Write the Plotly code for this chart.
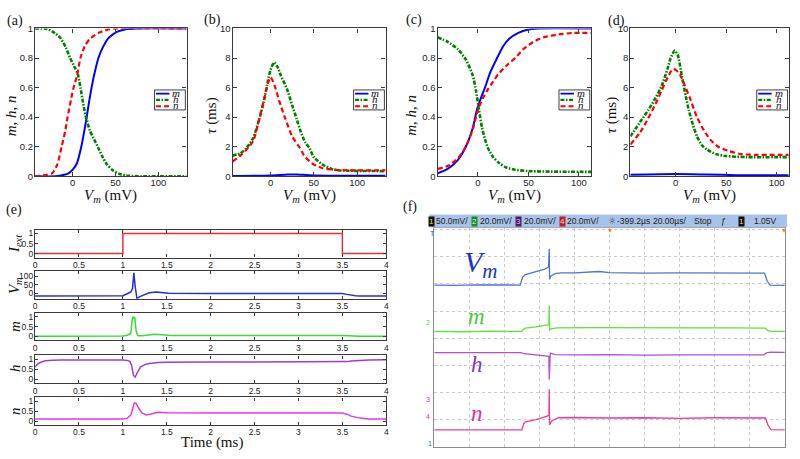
import plotly.graph_objects as go

# ================= DATA =================
# (a) steady-state gating variables vs Vm (simulation)
a_m_v = [-44, -20, -10, -5, 0, 5, 10, 13, 16, 19, 22, 26, 30, 35, 41, 47, 53, 62, 75, 133]
a_m = [0, 0, 0.01, 0.02, 0.045, 0.09, 0.2, 0.29, 0.39, 0.5, 0.6, 0.71, 0.8, 0.87, 0.93, 0.96, 0.98, 0.995, 1, 1]
a_h_v = [-44, -30, -24, -15, -8, -3, 2, 6, 9, 12, 15, 20, 25, 30, 35, 40, 47, 55, 65, 80, 133]
a_h = [1, 0.997, 0.98, 0.94, 0.87, 0.8, 0.74, 0.69, 0.6, 0.5, 0.41, 0.31, 0.25, 0.19, 0.13, 0.08, 0.04, 0.015, 0.004, 0, 0]
a_n_v = [-44, -30, -24, -18, -13, -9, -6, -2, 1, 5, 9, 14, 20, 30, 40, 50, 133]
a_n = [0, 0.01, 0.02, 0.08, 0.2, 0.3, 0.4, 0.52, 0.6, 0.68, 0.8, 0.88, 0.93, 0.97, 0.99, 1, 1]

# (b) time constants vs Vm (simulation)
b_m_v = [-44, 0, 20, 30, 50, 133]
b_m = [0.03, 0.06, 0.13, 0.12, 0.06, 0.04]
b_h_v = [-44, -35, -28, -20, -13, -8, -3, 0, 4, 8, 12, 19, 25, 30, 35, 40, 45, 50, 60, 73, 90, 133]
b_h = [1.4, 1.55, 1.9, 2.6, 3.9, 5.0, 6.5, 7.2, 7.7, 7.4, 6.8, 5.9, 4.8, 3.9, 3.0, 2.3, 1.9, 1.3, 0.8, 0.45, 0.38, 0.35]
b_n_v = [-44, -35, -28, -20, -13, -8, -3, 0, 3, 6, 10, 17, 25, 34, 40, 50, 60, 73, 90, 133]
b_n = [1.0, 1.4, 1.8, 2.4, 3.9, 5.1, 6.3, 6.7, 6.4, 5.9, 5.1, 3.9, 2.7, 1.9, 1.3, 0.8, 0.55, 0.45, 0.4, 0.4]

# (c) steady-state gating variables vs Vm (circuit)
c_m_v = [-40, -30, -20, -12, -5, -1, 3, 7, 12, 19, 25, 31, 40, 48, 60, 112]
c_m = [0.02, 0.05, 0.11, 0.2, 0.33, 0.45, 0.53, 0.6, 0.7, 0.8, 0.88, 0.93, 0.97, 0.99, 1, 1]
c_h_v = [-40, -30, -20, -12, -5, -2, 1, 4, 7, 10, 15, 21, 28, 37, 50, 112]
c_h = [0.94, 0.91, 0.86, 0.79, 0.68, 0.58, 0.45, 0.33, 0.25, 0.19, 0.13, 0.09, 0.06, 0.045, 0.035, 0.03]
c_n_v = [-40, -30, -20, -12, -5, 0, 5, 10, 15, 20, 30, 37, 45, 55, 65, 80, 95, 112]
c_n = [0.05, 0.07, 0.12, 0.2, 0.32, 0.45, 0.53, 0.59, 0.64, 0.69, 0.76, 0.8, 0.86, 0.91, 0.94, 0.96, 0.97, 0.97]

# (d) time constants vs Vm (circuit)
d_m_v = [-45, 0, 30, 60, 112]
d_m = [0.1, 0.15, 0.12, 0.08, 0.07]
d_h_v = [-45, -35, -27, -20, -14, -8, -5, -1, 2, 6, 10, 13, 17, 21, 26, 31, 40, 50, 70, 112]
d_h = [2.7, 3.7, 4.5, 5.3, 6.1, 7.3, 8.0, 8.5, 8.2, 6.8, 5.4, 4.45, 3.5, 2.7, 2.1, 1.8, 1.5, 1.37, 1.3, 1.3]
d_n_v = [-45, -35, -27.5, -20, -14, -8, -3, 0, 4, 8, 14, 21, 28, 34, 42, 53, 65, 80, 112]
d_n = [2.15, 3.0, 3.9, 4.9, 5.8, 6.7, 7.25, 7.2, 6.9, 6.3, 5.3, 4.0, 3.1, 2.5, 2.0, 1.7, 1.5, 1.45, 1.45]

# (e) time courses (simulation), time in ms
e_i_t = [0, 1, 3.5, 4]
e_i = [0, 1, 0, 0]
e_v_t = [0, 0.5, 0.99, 1.0, 1.05, 1.09, 1.11, 1.125, 1.14, 1.16, 1.2, 1.25, 1.3, 1.38, 1.45, 1.52, 2.0, 2.5, 3.0, 3.5, 3.55, 3.6, 3.65, 3.7, 4.0]
e_v = [-15, -15, -15, -14, -2, 8, 30, 120, 40, -30, -18, -6, 3, 8, 5, 0, -1, -1, -1, -1, -6, -12, -14, -15, -15]
e_m_t = [0, 0.98, 1.0, 1.05, 1.09, 1.105, 1.115, 1.125, 1.135, 1.15, 1.17, 1.22, 1.3, 1.36, 1.45, 1.55, 3.5, 3.6, 3.7, 4.0]
e_m = [0.01, 0.01, 0.02, 0.06, 0.15, 0.8, 1.0, 0.92, 0.98, 0.3, 0.03, 0.03, 0.08, 0.11, 0.08, 0.05, 0.05, 0.03, 0.01, 0.01]
e_h_t = [0, 0.03, 0.07, 0.12, 0.2, 0.3, 1.0, 1.05, 1.08, 1.1, 1.12, 1.14, 1.16, 1.2, 1.25, 1.3, 1.4, 1.5, 2.0, 3.0, 3.5, 3.55, 3.6, 3.7, 3.8, 4.0]
e_h = [0.62, 0.78, 0.87, 0.93, 0.96, 0.97, 0.97, 0.95, 0.9, 0.7, 0.2, 0.12, 0.3, 0.62, 0.74, 0.8, 0.84, 0.86, 0.87, 0.87, 0.87, 0.89, 0.92, 0.95, 0.97, 0.98]
e_n_t = [0, 1.0, 1.05, 1.09, 1.11, 1.13, 1.15, 1.18, 1.22, 1.27, 1.32, 1.4, 1.5, 1.7, 2.0, 3.0, 3.5, 3.55, 3.6, 3.7, 3.8, 4.0]
e_n = [0.1, 0.1, 0.15, 0.3, 0.6, 0.92, 0.9, 0.65, 0.4, 0.31, 0.36, 0.45, 0.42, 0.43, 0.41, 0.41, 0.41, 0.35, 0.25, 0.15, 0.11, 0.1]

# (f) oscilloscope traces, x and y in screen divisions
f_v_x = [0, 0.6, 1.2, 1.8, 2.45, 2.52, 2.6, 2.8, 3.0, 3.15, 3.26, 3.28, 3.29, 3.33, 3.45, 3.6, 4.0, 4.5, 4.7, 5.0, 6.0, 7.0, 8.0, 9.0, 9.42, 9.5, 9.58, 10.0]
f_v = [5.96, 5.95, 5.97, 5.96, 5.96, 6.25, 6.35, 6.42, 6.48, 6.55, 6.62, 7.3, 6.17, 6.3, 6.38, 6.41, 6.41, 6.43, 6.46, 6.42, 6.40, 6.41, 6.41, 6.41, 6.40, 6.1, 5.96, 5.95]
f_m_x = [0, 0.8, 1.6, 2.5, 2.55, 2.6, 2.9, 3.2, 3.27, 3.28, 3.29, 3.33, 3.5, 4.5, 5.5, 6.5, 7.5, 8.5, 9.45, 9.5, 9.58, 10.0]
f_m = [4.25, 4.24, 4.26, 4.25, 4.33, 4.37, 4.42, 4.48, 4.5, 5.21, 4.29, 4.35, 4.38, 4.39, 4.38, 4.37, 4.38, 4.38, 4.37, 4.3, 4.25, 4.25]
f_h_x = [0, 0.8, 1.6, 2.48, 2.55, 2.9, 3.2, 3.27, 3.28, 3.29, 3.31, 3.45, 4.0, 5.0, 6.0, 7.0, 8.0, 9.0, 9.4, 9.48, 9.6, 10.0]
f_h = [3.47, 3.48, 3.47, 3.47, 3.43, 3.39, 3.35, 3.33, 2.48, 3.3, 3.45, 3.40, 3.39, 3.40, 3.38, 3.39, 3.39, 3.39, 3.39, 3.46, 3.49, 3.48]
f_n_x = [0, 0.8, 1.6, 2.5, 2.55, 2.6, 2.9, 3.2, 3.27, 3.28, 3.29, 3.35, 3.54, 4.0, 5.0, 6.0, 7.0, 8.0, 9.0, 9.45, 9.52, 9.6, 10.0]
f_n = [0.62, 0.63, 0.62, 0.62, 0.85, 0.92, 1.0, 1.12, 1.16, 2.12, 0.8, 0.95, 1.07, 1.08, 1.06, 1.07, 1.05, 1.07, 1.06, 1.06, 0.8, 0.63, 0.62]

x_ticks_v = [0, 50, 100]
e_ticks_t = [0, 0.5, 1, 1.5, 2, 2.5, 3, 3.5, 4]

# ================= LAYOUT HELPERS =================
W, H = 800, 459
def PX(p):
    return p / W
def PY(p):
    return 1 - p / H

SERIF = "Liberation Serif, Times New Roman, serif"
SANS = "Liberation Sans, Arial, sans-serif"
FRAME = "#3a3a3a"

def note(text, x, y, size, color="#111", family=SERIF, angle=0, **kw):
    d = dict(text=text, x=PX(x), y=PY(y), xref="paper", yref="paper", showarrow=False,
             xanchor="center", yanchor="middle", textangle=angle,
             font=dict(family=family, size=size, color=color))
    d.update(kw)
    return d

def mat_axis(d0, d1, rng, tickvals, anchor, horiz, size=9.5, standoff=0):
    dom = [PX(d0), PX(d1)] if horiz else [PY(d1), PY(d0)]
    return dict(domain=dom, range=rng, tickvals=tickvals, ticktext=[f"{v:g}" for v in tickvals],
                ticks="inside", ticklen=4, ticklabelstandoff=standoff,
                tickcolor=FRAME, tickwidth=1, showline=True, linecolor=FRAME, linewidth=1.3,
                mirror="ticks", showgrid=False, zeroline=False, anchor=anchor,
                tickfont=dict(family=SANS, size=size, color="#222"), fixedrange=True)

fig = go.Figure()
layout = dict(width=W, height=H, margin=dict(l=0, r=0, t=0, b=0),
              paper_bgcolor="white", plot_bgcolor="white", showlegend=False)
annotations = []
shapes = []

BLUE, GREEN, RED = "#0000ff", "#008000", "#ff0000"

# ---- top panels (a)-(d) ----
top_panels = [
    ("a", 33.3, 185.7, [-44, 133], [0, 1], [0, 0.2, 0.4, 0.6, 0.8, 1],
     [(a_m_v, a_m), (a_h_v, a_h), (a_n_v, a_n)], "<i>m</i>, <i>h</i>, <i>n</i>"),
    ("b", 232.0, 386.0, [-44, 133], [0, 10], [0, 2, 4, 6, 8, 10],
     [(b_m_v, b_m), (b_h_v, b_h), (b_n_v, b_n)], "<i>τ</i> (ms)"),
    ("c", 438.3, 592.7, [-40, 112], [0, 1], [0, 0.2, 0.4, 0.6, 0.8, 1],
     [(c_m_v, c_m), (c_h_v, c_h), (c_n_v, c_n)], "<i>m</i>, <i>h</i>, <i>n</i>"),
    ("d", 632.3, 791.7, [-45, 112], [0, 10], [0, 2, 4, 6, 8, 10],
     [(d_m_v, d_m), (d_h_v, d_h), (d_n_v, d_n)], "<i>τ</i> (ms)"),
]
TOP_Y0, TOP_Y1 = 23.0, 174.5
styles = [dict(color=BLUE, width=2, dash="solid"),
          dict(color=GREEN, width=2.6, dash="4px,1.5px,1.5px,1.5px"),
          dict(color=RED, width=2.2, dash="5px,3px")]
label_pos = {"a": (13, 15), "b": (211.5, 14), "c": (415, 14), "d": (618, 15)}
ytitle_x = {"a": 9, "b": 211, "c": 412, "d": 613}

for i, (name, x0, x1, xr, yr, ytv, data, ytitle) in enumerate(top_panels, start=1):
    xa = "xaxis" if i == 1 else f"xaxis{i}"
    ya = "yaxis" if i == 1 else f"yaxis{i}"
    xs = "x" if i == 1 else f"x{i}"
    ys = "y" if i == 1 else f"y{i}"
    layout[xa] = mat_axis(x0, x1, xr, x_ticks_v, ys, True, standoff=-3)
    layout[ya] = mat_axis(TOP_Y0, TOP_Y1, yr, ytv, xs, False, standoff=-1)
    for (vx, vy), st in zip(data, styles):
        fig.add_trace(go.Scatter(x=vx, y=vy, xaxis=xs, yaxis=ys, mode="lines",
                                 line=dict(color=st["color"], width=st["width"], dash=st["dash"],
                                           shape="spline", smoothing=0.6),
                                 hoverinfo="skip"))
    lx, ly = label_pos[name]
    annotations.append(note(f"({name})", lx, ly, 14))
    annotations.append(note(ytitle, ytitle_x[name], 112, 15, angle=-90))
    annotations.append(note("<i>V</i><sub><i>m</i></sub> (mV)", (x0 + x1) / 2, 195, 15))
    # legend box
    R = x1 - 1.2
    bx0, bx1, by0, by1 = R - 31, R, 86, 106.5
    shapes.append(dict(type="rect", xref="paper", yref="paper", x0=PX(bx0), x1=PX(bx1),
                       y0=PY(by1), y1=PY(by0), fillcolor="white", line=dict(color="#111", width=0.8)))
    for k, (lab, st) in enumerate(zip(["m", "h", "n"], styles)):
        yy = 89.8 + k * 6.4
        shapes.append(dict(type="line", xref="paper", yref="paper", x0=PX(bx0 + 1.5), x1=PX(bx0 + 15),
                           y0=PY(yy), y1=PY(yy),
                           line=dict(color=st["color"], width=st["width"] * 0.9, dash=st["dash"])))
        annotations.append(note(f"<i>{lab}</i>", bx0 + 22, yy - 1, 11))

# ---- panel (e): five stacked time courses ----
E_X0, E_X1 = 33.3, 386.7
e_rows = [
    (229.0, 257.7, [-0.2, 1.2], [0, 0.5, 1], e_i_t, e_i, "#e8302e", "hv", "<i>I<sub>ext</sub></i>", 243),
    (271.7, 300.0, [-32, 130], [0, 50, 100], e_v_t, e_v, "#2a2ad6", "linear", "<i>V<sub>m</sub></i>", 286),
    (314.3, 342.6, [-0.2, 1.2], [0, 0.5, 1], e_m_t, e_m, "#33dd33", "linear", "<i>m</i>", 328),
    (358.0, 386.7, [-0.2, 1.2], [0, 0.5, 1], e_h_t, e_h, "#9a3ae6", "linear", "<i>h</i>", 371),
    (401.0, 429.3, [-0.2, 1.2], [0, 0.5, 1], e_n_t, e_n, "#e23ae2", "linear", "<i>n</i>", 415),
]
for j, (y0, y1, yr, ytv, tx, ty, col, shp, ylab, ylab_y) in enumerate(e_rows):
    idx = 5 + j
    xs, ys = f"x{idx}", f"y{idx}"
    layout[f"xaxis{idx}"] = mat_axis(E_X0, E_X1, [0, 4], e_ticks_t, ys, True, size=8.5, standoff=-1)
    layout[f"yaxis{idx}"] = mat_axis(y0, y1, yr, ytv, xs, False, size=8.5, standoff=-1)
    layout[f"xaxis{idx}"]["ticklen"] = 3
    layout[f"yaxis{idx}"]["ticklen"] = 3
    fig.add_trace(go.Scatter(x=tx, y=ty, xaxis=xs, yaxis=ys, mode="lines",
                             line=dict(color=col, width=1.5, shape=shp), hoverinfo="skip"))
    annotations.append(note(ylab, 13, ylab_y, 15, angle=-90))

annotations.append(note("Time (ms)", 211.7, 447, 15))
annotations.append(note("(e)", 11.7, 209, 14))
annotations.append(note("(f)", 411, 206, 14))

# ---- panel (f): oscilloscope screen ----
F_X0, F_X1, F_Y0, F_Y1 = 435.0, 787.7, 227.0, 451.6
grid_common = dict(showticklabels=False, ticks="", showgrid=True, dtick=1, tick0=0,
                   gridcolor="#c9c9c9", griddash="dot", gridwidth=1, zeroline=False,
                   showline=True, linecolor="#8a8a8a", linewidth=1.2, mirror=True, fixedrange=True)
layout["xaxis10"] = dict(domain=[PX(F_X0), PX(F_X1)], range=[0, 10], anchor="y10", **grid_common)
layout["yaxis10"] = dict(domain=[PY(F_Y1), PY(F_Y0)], range=[0, 8.08], anchor="x10", **grid_common)
f_traces = [(f_v_x, f_v, "#4f72d6"), (f_m_x, f_m, "#5fe040"), (f_h_x, f_h, "#b24fd6"), (f_n_x, f_n, "#ee3a96")]
for fx, fy, col in f_traces:
    fig.add_trace(go.Scatter(x=fx, y=fy, xaxis="x10", yaxis="y10", mode="lines",
                             line=dict(color=col, width=1.3), hoverinfo="skip"))

for txt, xx, yy, col, sz in [("<i>V<sub>m</sub></i>", 482, 264, "#2030c8", 30),
                             ("<i>m</i>", 477, 318, "#48c83a", 23),
                             ("<i>h</i>", 478, 367, "#8a30c8", 23),
                             ("<i>n</i>", 478, 417, "#e02aa8", 23)]:
    annotations.append(note(txt, xx, yy, sz, color=col))

for txt, xx, yy, col in [("T", 433, 233, "#3060d0"), ("2", 429, 324, "#50d040"),
                         ("3", 429, 403, "#b040d0"), ("4", 429, 421, "#e03080"),
                         ("1", 431, 448, "#3060d0")]:
    annotations.append(note(txt, xx, yy, 7, color=col, family=SANS))

# header bar of the oscilloscope
shapes.append(dict(type="rect", xref="paper", yref="paper", x0=PX(430), x1=PX(790),
                   y0=PY(227), y1=PY(213.5), fillcolor="#a9c3e8", line=dict(width=0), layer="above"))
header = [("50.0mV/", 453), ("20.0mV/", 497), ("20.0mV/", 541), ("20.0mV/", 585),
          ("-399.2µs", 635), ("20.00µs/", 672), ("Stop", 705.5), ("1.05V", 768)]
for txt, xx in header:
    annotations.append(note(txt, xx, 220.3, 8.5, color="#1a1a1a", family=SANS))
for txt, xx, bg, fc in [("1", 432.5, "#111111", "#e8e060"), ("2", 475.5, "#1f8a2a", "#c8ffc8"),
                        ("3", 519.5, "#4a1f5a", "#e0b0ff"), ("4", 564, "#b8202c", "#ffd0d0"),
                        ("1", 744, "#111111", "#e8e060")]:
    annotations.append(note(txt, xx, 220.3, 8, color=fc, family=SANS, bgcolor=bg, borderpad=0))
annotations.append(note("☼", 613.5, 220.3, 9, color="#333", family="DejaVu Sans"))
annotations.append(note("ƒ", 726.5, 220.3, 9, color="#222", family=SANS))
annotations.append(note("▾", 611.7, 229.5, 8, color="#f09020", family="DejaVu Sans"))
annotations.append(note("▾", 787, 229.5, 8, color="#f09020", family="DejaVu Sans"))

layout["annotations"] = annotations
layout["shapes"] = shapes
fig.update_layout(**layout)
fig.write_html("out.html", config={"displayModeBar": False},
               post_script="document.body.style.margin='0';document.body.style.overflow='hidden';")
